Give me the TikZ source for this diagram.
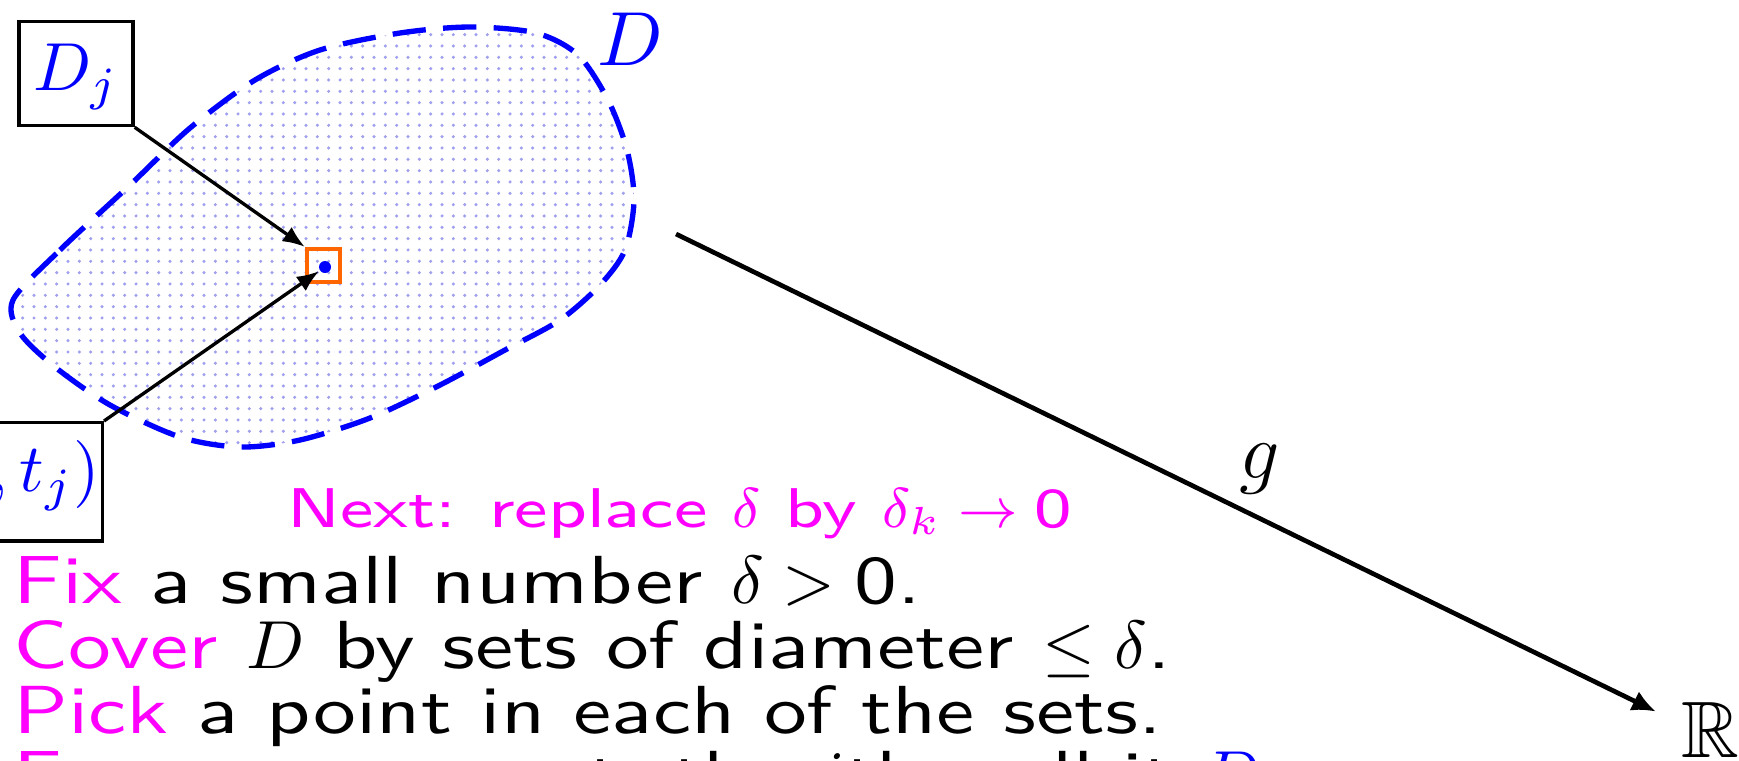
\documentclass[tikz,border=0pt]{standalone}
\usepackage{fix-cm}
\usepackage{amssymb}
\usepackage{fontspec}
\setsansfont{Latin Modern Sans}[FakeStretch=1.26]
\usetikzlibrary{arrows.meta,patterns.meta}
\definecolor{mag}{RGB}{255,0,255}
\definecolor{bl}{RGB}{0,0,255}
\definecolor{org}{RGB}{255,102,0}
\definecolor{dotc}{RGB}{160,160,238}
\begin{document}
\begin{tikzpicture}[x=0.15pt,y=-0.15pt,
  lbl/.style={inner sep=0pt, anchor=base west, font=\sffamily\fontsize{10.2}{9.75}\selectfont},
  nextl/.style={inner sep=0pt, anchor=base west, font=\sffamily\fontsize{8.4}{9}\selectfont, text=mag},
  boxed/.style={draw=black, line width=0.5pt, text=bl, font=\fontsize{10.2}{12}\selectfont},
  arr/.style={draw=black, line width=0.5pt, -{Latex[length=3.3pt,width=2.6pt]}},
  blob/.style={draw=bl, line width=0.8pt, dash pattern=on 5pt off 2.6pt,
    pattern={Dots[distance=1.7pt,radius=0.26pt]}, pattern color=dotc},
]
\useasboundingbox (0,0) rectangle (1739,760);
\clip (0,0) rectangle (1739,760);
\draw[blob] plot[smooth cycle] coordinates {
 (13,300) (60,250) (130,185) (190,128) (255,80) (320,50) (400,33) (470,27)
 (536,33) (578,55) (608,100) (627,150) (634,200) (625,250) (600,285) (560,320)
 (505,350) (440,385) (370,418) (300,440) (240,447) (180,437) (110,405) (55,367) (20,333)};
\node[text=bl, inner sep=0pt, anchor=base, font=\fontsize{11.5}{12}\selectfont] (Dlab) at (630,65) {$D$};
\node[boxed, inner xsep=1.5pt, minimum width=17.1pt, minimum height=14.55pt, text height=6.97pt, text depth=2pt] (dj) at (76,73.5) {$D_j$};
\node[boxed, anchor=north east, inner xsep=0.4pt, minimum height=14.25pt, text height=6.97pt, text depth=4.1pt] (tb) at (104,421) {$(s_j,t_j)$};
\node[draw=org, line width=0.65pt, minimum size=4.95pt, inner sep=0pt] (sq) at (323.5,265.5) {};
\node[circle, fill=bl, inner sep=0pt, minimum size=1.8pt] (dot) at (325,267) {};
\draw[arr] (dj.south east) -- (sq.north west);
\draw[arr] (tb.north east) -- (dot);
\coordinate (gs) at (676,234);
\node[inner sep=0pt, anchor=base west, font=\fontsize{12}{12}\selectfont] (R) at (1680,757) {$\mathbb{R}$};
\draw[line width=0.7pt, -{Latex[length=3.6pt,width=3.2pt]}] (gs) -- ([xshift=-3.6pt,yshift=-1.65pt]R.north west);
\node[inner sep=0pt, anchor=base, font=\fontsize{12}{12}\selectfont] (g) at (1260,478) {$g$};
\node[nextl] (next) at (286,527) {Next: replace $\delta$ by $\delta_k\to\mbox{0}$};
\node[lbl] (l1) at (12,603) {\textcolor{mag}{Fix} a small number $\delta>\mbox{0}$.};
\node[lbl] (l2) at (12,668) {\textcolor{mag}{Cover} $D$ by sets of diameter $\leq\delta$.};
\node[lbl] (l3) at (12,733) {\textcolor{mag}{Pick} a point in each of the sets.};
\node[lbl] (l4) at (12,798) {\textcolor{mag}{Focus} on one set, the $j$th, call it \textcolor{bl}{$D_j$}.};
\end{tikzpicture}
\end{document}
